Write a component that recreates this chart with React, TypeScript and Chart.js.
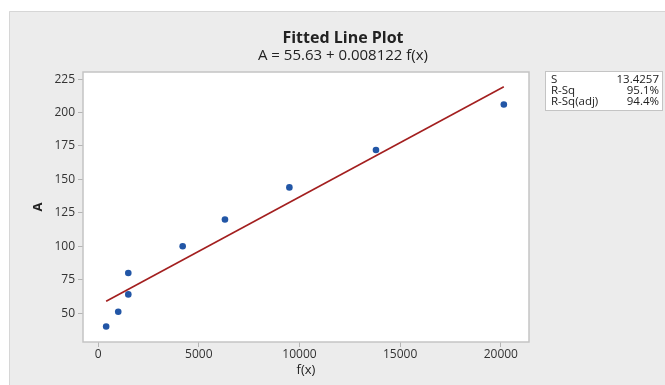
import React, { useEffect, useRef } from "react";
import { Chart, registerables } from "chart.js";

Chart.register(...registerables);

const fx: number[] = [400, 1000, 1500, 1500, 4200, 6300, 9500, 13800, 20150];
const aValues: number[] = [40, 51, 64, 80, 100, 120, 144, 172, 206];
const fitX: number[] = [400, 20150];
const fitY: number[] = [58.9, 219.3];
const xTicks: number[] = [0, 5000, 10000, 15000, 20000];
const yTicks: number[] = [50, 75, 100, 125, 150, 175, 200, 225];
const statLabels: string[] = ["S", "R-Sq", "R-Sq(adj)"];
const statValues: string[] = ["13.4257", "95.1%", "94.4%"];
const titleText = "Fitted Line Plot";
const subtitleText = "A = 55.63 + 0.008122 f(x)";
const xTitle = "f(x)";
const yTitle = "A";

const FONT = "'Open Sans', 'Noto Sans', sans-serif";

const framePlugin = {
  id: "frame",
  beforeDraw(chart: any) {
    const { ctx, width, height, chartArea } = chart;
    ctx.save();
    ctx.fillStyle = "#ffffff";
    ctx.fillRect(0, 0, width, height);
    ctx.fillStyle = "#ececec";
    ctx.fillRect(9, 11, width - 9, height - 11);
    ctx.strokeStyle = "#d6d6d6";
    ctx.lineWidth = 1;
    ctx.beginPath();
    ctx.moveTo(9.5, height);
    ctx.lineTo(9.5, 11.5);
    ctx.lineTo(width, 11.5);
    ctx.stroke();
    ctx.fillStyle = "#ffffff";
    ctx.fillRect(chartArea.left, chartArea.top, chartArea.right - chartArea.left, chartArea.bottom - chartArea.top);
    ctx.restore();
  },
  afterDraw(chart: any) {
    const { ctx, chartArea } = chart;
    ctx.save();
    ctx.strokeStyle = "#c4c4c4";
    ctx.lineWidth = 1.5;
    ctx.strokeRect(chartArea.left, chartArea.top, chartArea.right - chartArea.left, chartArea.bottom - chartArea.top);
    ctx.fillStyle = "#222222";
    ctx.textAlign = "center";
    ctx.textBaseline = "middle";
    ctx.font = `bold 16px ${FONT}`;
    ctx.fillText(titleText, 343, 38);
    ctx.font = `15px ${FONT}`;
    ctx.fillText(subtitleText, 343, 56);
    ctx.font = `13px ${FONT}`;
    ctx.fillText(xTitle, 306, 370);
    ctx.save();
    ctx.translate(38, (chartArea.top + chartArea.bottom) / 2);
    ctx.rotate(-Math.PI / 2);
    ctx.font = `bold 13px ${FONT}`;
    ctx.fillText(yTitle, 0, 0);
    ctx.restore();
    const bx = 545, by = 71, bw = 117, bh = 39;
    ctx.fillStyle = "#ffffff";
    ctx.fillRect(bx, by, bw, bh);
    ctx.strokeStyle = "#c4c4c4";
    ctx.lineWidth = 1;
    ctx.strokeRect(bx + 0.5, by + 0.5, bw, bh);
    ctx.fillStyle = "#222222";
    ctx.font = `11.5px ${FONT}`;
    statLabels.forEach((l, i) => {
      const yy = by + 8.5 + i * 11.3;
      ctx.textAlign = "left";
      ctx.fillText(l, bx + 6, yy);
      ctx.textAlign = "right";
      ctx.fillText(statValues[i], bx + bw - 3, yy);
    });
    ctx.restore();
  },
};

export default function App() {
  const ref = useRef<HTMLCanvasElement | null>(null);
  useEffect(() => {
    document.body.style.margin = "0";
    const canvas = ref.current;
    if (!canvas) return;
    const chart = new Chart(canvas, {
      type: "scatter",
      data: {
        datasets: [
          {
            type: "line",
            label: "Fit",
            data: fitX.map((x, i) => ({ x, y: fitY[i] })),
            borderColor: "#a31f1f",
            borderWidth: 1.6,
            pointRadius: 0,
            fill: false,
          } as any,
          {
            label: "A",
            data: fx.map((x, i) => ({ x, y: aValues[i] })),
            backgroundColor: "#2256a6",
            borderColor: "#2256a6",
            pointRadius: 3.3,
            borderWidth: 0,
          },
        ],
      },
      options: {
        responsive: false,
        animation: false,
        layout: { padding: { left: 0, top: 72, right: 136, bottom: 0 } },
        plugins: { legend: { display: false }, tooltip: { enabled: false }, title: { display: false } },
        scales: {
          x: {
            type: "linear",
            min: -750,
            max: 21400,
            afterBuildTicks: (s: any) => {
              s.ticks = xTicks.map((v) => ({ value: v }));
            },
            afterFit: (s: any) => {
              s.height = 43;
            },
            grid: { drawOnChartArea: false, tickLength: 5, color: "#b5b5b5" },
            border: { display: false },
            ticks: {
              font: { family: FONT, size: 12 },
              color: "#333333",
              padding: 0,
              maxRotation: 0,
              callback: (v: any) => String(v),
            },
          },
          y: {
            type: "linear",
            min: 28.4,
            max: 230.3,
            afterBuildTicks: (s: any) => {
              s.ticks = yTicks.map((v) => ({ value: v }));
            },
            afterFit: (s: any) => {
              s.width = 83;
            },
            grid: { drawOnChartArea: false, tickLength: 5, color: "#b5b5b5" },
            border: { display: false },
            ticks: { font: { family: FONT, size: 12 }, color: "#333333", padding: 3, callback: (v: any) => String(v) },
          },
        },
      },
      plugins: [framePlugin],
    });
    return () => chart.destroy();
  }, []);
  return <canvas ref={ref} width={665} height={385} style={{ display: "block" }} />;
}
